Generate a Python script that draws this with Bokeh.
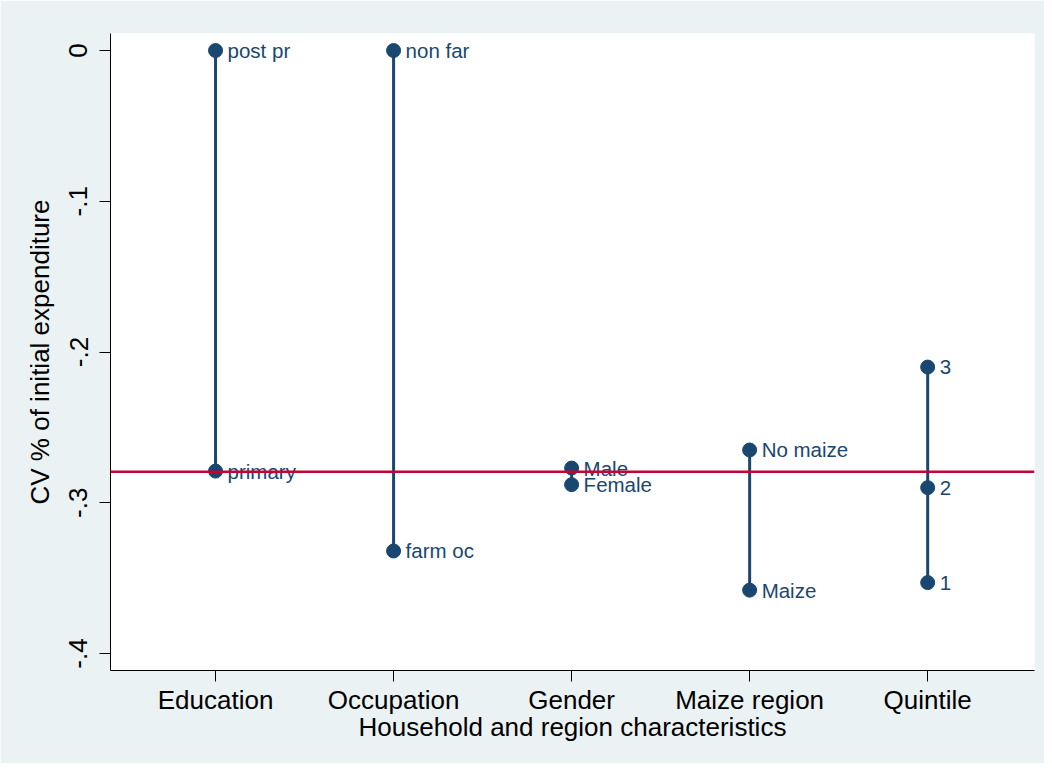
from bokeh.plotting import figure
from bokeh.models import FixedTicker, ColumnDataSource, Span
from bokeh.core.properties import value
from bokeh.embed import file_html
from bokeh.resources import INLINE

# ---- data ----
groups = ["Education", "Occupation", "Gender", "Maize region", "Quintile"]
group_pos = [1, 2, 3, 4, 5]
point_group = [1, 1, 2, 2, 3, 3, 4, 4, 5, 5, 5]
point_value = [0.0, -0.279, 0.0, -0.332, -0.277, -0.288, -0.265, -0.358, -0.210, -0.290, -0.353]
point_label = ["post pr", "primary", "non far", "farm oc", "Male", "Female",
               "No maize", "Maize", "3", "2", "1"]
mean_value = -0.2795
y_ticks = [-0.4, -0.3, -0.2, -0.1, 0.0]
y_tick_labels = ["-.4", "-.3", "-.2", "-.1", "0"]

NAVY = "#1A476F"
RED = "#C10534"
BG = "#EAF2F3"
FONT = "Liberation Sans"

p = figure(width=1044, height=763, output_backend="svg", toolbar_location=None,
           x_range=(0.41, 5.60), y_range=(-0.4113, 0.0113),
           min_border_left=110, min_border_top=33, min_border_right=10, min_border_bottom=93)
p.background_fill_color = "white"
p.border_fill_color = BG
p.outline_line_color = None
p.grid.visible = False

# segments per group (min to max)
seg_x, seg_y0, seg_y1 = [], [], []
for g in group_pos:
    vals = [v for pg, v in zip(point_group, point_value) if pg == g]
    seg_x.append(g)
    seg_y0.append(min(vals))
    seg_y1.append(max(vals))
p.segment(x0=seg_x, y0=seg_y0, x1=seg_x, y1=seg_y1, line_color=NAVY, line_width=3)

p.add_layout(Span(location=mean_value, dimension="width", line_color=RED, line_width=2.5))

src = ColumnDataSource(dict(x=point_group, y=point_value, label=point_label))
p.scatter("x", "y", source=src, size=14, fill_color=NAVY, line_color=NAVY)
p.text("x", "y", text="label", source=src, x_offset=12, text_baseline="middle",
       text_align="left", text_color=NAVY, text_font=value(FONT), text_font_size="20.5px")

# x axis
xa = p.xaxis[0]
xa.ticker = FixedTicker(ticks=group_pos)
xa.major_label_overrides = {g: name for g, name in zip(group_pos, groups)}
xa.minor_tick_line_color = None
xa.major_tick_out = 11
xa.major_tick_in = 0
xa.axis_line_color = "black"
xa.major_tick_line_color = "black"
xa.major_label_text_font = FONT
xa.major_label_text_font_size = "26px"
xa.major_label_text_color = "black"
xa.major_label_standoff = 3
xa.axis_label = "Household and region characteristics"
xa.axis_label_text_font = FONT
xa.axis_label_text_font_size = "26px"
xa.axis_label_text_font_style = "normal"
xa.axis_label_text_color = "black"
xa.axis_label_standoff = -6

# y axis
ya = p.yaxis[0]
ya.ticker = FixedTicker(ticks=y_ticks)
ya.major_label_overrides = {t: l for t, l in zip(y_ticks, y_tick_labels)}
ya.minor_tick_line_color = None
ya.major_tick_out = 11
ya.major_tick_in = 0
ya.axis_line_color = "black"
ya.major_tick_line_color = "black"
ya.major_label_orientation = "vertical"
ya.major_label_text_font = FONT
ya.major_label_text_font_size = "26px"
ya.major_label_text_color = "black"
ya.major_label_standoff = 12
ya.axis_label = "CV % of initial expenditure"
ya.axis_label_text_font = FONT
ya.axis_label_text_font_size = "26px"
ya.axis_label_text_font_style = "normal"
ya.axis_label_text_color = "black"
ya.axis_label_standoff = 12

open("out.html", "w").write(file_html(p, INLINE))
